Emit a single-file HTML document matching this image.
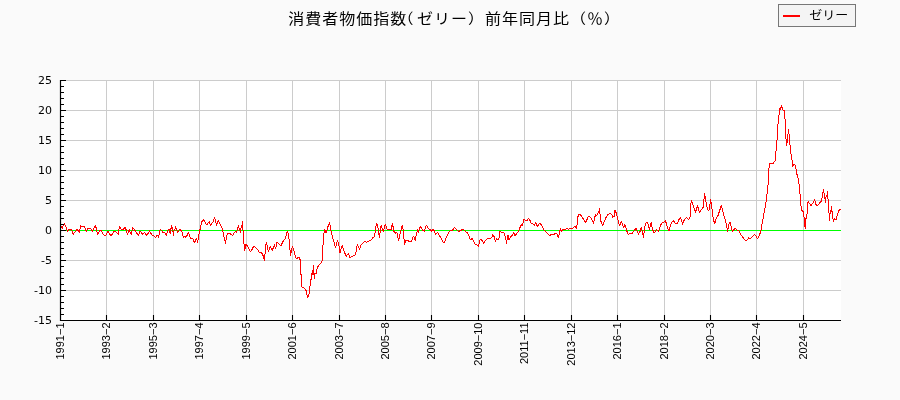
<!DOCTYPE html>
<html><head><meta charset="utf-8"><style>
html,body{margin:0;padding:0;background:#fafafa;}
svg{display:block;will-change:transform;}
.tk{font-family:"DejaVu Sans","Liberation Sans",sans-serif;font-size:11px;fill:#000;}
.tx{font-family:"Liberation Sans",sans-serif;font-size:11px;fill:#000;}
.tt{font-family:"Liberation Sans","Noto Sans CJK JP",sans-serif;font-size:16px;fill:#000;}
.lg{font-family:"Liberation Sans","Noto Sans CJK JP",sans-serif;font-size:13px;fill:#000;}
</style></head><body>
<svg width="900" height="400" viewBox="0 0 900 400">
<rect x="0" y="0" width="900" height="400" fill="#fafafa"/>
<rect x="60" y="80" width="781" height="241" fill="#ffffff"/>
<path d="M106.5 80V320M153.5 80V320M199.5 80V320M246.5 80V320M292.5 80V320M339.5 80V320M385.5 80V320M431.5 80V320M478.5 80V320M524.5 80V320M571.5 80V320M617.5 80V320M664.5 80V320M710.5 80V320M756.5 80V320M803.5 80V320M61 80.5H841M61 110.5H841M61 140.5H841M61 170.5H841M61 200.5H841M61 230.5H841M61 260.5H841M61 290.5H841" stroke="#cccccc" stroke-width="1" fill="none"/>
<path d="M61 230.5H841" stroke="#00ff00" stroke-width="1"/>
<polyline points="60.5,226 61.04,226 62.4,228.4 63.2,225.6 64.4,223.2 65.6,226 66.4,227.6 67.2,231.2 68,230.4 69.2,229.2 70.8,229.36 71.76,230 73.2,234.4 74.4,232.8 75.6,231.2 77.2,229.2 78.16,231.2 78.64,230.4 79.6,232.8 80.4,225.2 81.6,226.4 84.4,226.4 86.16,231.2 87.6,228.8 90.4,228.4 92.4,231.2 93.6,228.4 94.4,227.2 95.6,225.2 96.4,229.6 97.6,234.4 98.4,233.2 99.6,230.8 101.2,230.4 103.2,234.4 104.8,235.6 106,235.2 108,231.2 109.2,233.2 110.8,235.6 112.4,234.4 114,231.2 115.6,231.2 117.2,233.2 118.36,234.64 119.4,226.4 119.96,228.8 120.6,228 121.4,229.6 123.4,229.36 125,227.6 125.8,228.8 127.4,234.64 128.44,231.2 129.4,229.2 130.36,233.2 131.4,234.64 132.6,227.2 134.2,229.6 135.4,230.8 136.6,232.8 138.36,235.6 139.8,231.6 140.6,231.2 142.6,234.64 144.6,232.4 146.6,235.44 147.8,234 149.4,230.96 150.6,233.2 152.2,234.96 153.8,235.6 155.4,237.6 157,235.6 158.2,235.44 158.6,237.6 159.4,232 160.2,229.2 161.4,230.4 162.6,232.24 164.6,232.24 166.2,235.44 167.4,231.2 168.2,229.6 169.4,229.2 170.2,233.6 171.4,225.2 171.96,228.8 172.6,228 173.4,235.2 174.2,229.6 175,228.8 175.42,226.22 176.32,229.55 177.4,232.25 178.48,230.72 179.65,229.28 181,230.45 182.08,232.25 183.25,237.38 184.6,236.3 185.95,237.38 187.3,234.95 188.38,232.25 189.55,235.85 190.45,238.1 192.7,238.55 194.5,242.6 195.58,240.35 196.48,238.55 197.65,242.6 198.55,235.85 199.9,230 200.8,225.95 201.7,221.9 203.32,219.2 204.58,221.45 205.75,223.7 207.1,224.42 208.45,222.62 209.35,221.45 210.52,225.5 211.6,223.7 212.95,221.9 214.48,217.4 215.65,221.45 216.37,225.5 217.45,222.35 218.35,220.1 219.52,222.8 220.6,225.5 221.95,228.2 222.86,230.9 223.76,235.85 224.66,239.45 225.56,243.5 226.46,236.3 227.81,233.42 229.16,233.15 230.51,234.05 232.5,235.5 233.8,233.5 235.2,231.5 236.5,232.5 237.5,229 238.5,225.5 239.5,230 240.5,232.5 241.3,226 242,225 242.5,221.5 243,229.5 243.5,242 244.2,244.5 244.5,250.5 245.2,248 245.8,244 247,245.5 248.5,248 250.5,251.5 252,249.5 253.5,246.5 255,247 256.5,248.2 258,250 259.5,252.5 261,252.5 262.5,254 263.5,257 264.5,260.5 265.5,248 266.3,242.5 267.5,247 268.5,252 269.5,248 270.5,246.5 271.5,248.8 272.5,250.5 273.5,246.5 274.5,245 275.5,249 277,242.5 278,243 279.5,244.5 281,245.5 282.5,242.5 284,240 285.5,238.5 286.5,234 287.2,231 288.5,234.5 289.5,243 290,250 290.5,255.5 291.5,250 292.5,246.5 293.5,249 294.5,253 295.8,258 297,259.2 298.2,257 299.4,258 300.4,260.4 300.6,273 301.4,276 301.6,286.8 303,287.4 304.8,288.6 306,290.4 306.8,294.6 307.6,297.4 309,294.6 310.2,284.4 311.4,277.2 312.4,270 312.8,274.2 313.6,265.2 314.2,278.4 315,273 316,274.2 316.8,269.4 318,266.4 319.8,264 321,262.8 322.5,260.4 322.56,252.11 323.56,237.11 324.44,229.33 326.11,232.67 327.78,227.11 329.56,222.11 330.78,230.44 332.78,238.22 334.44,243.78 335.56,247.67 337.56,240.22 339.44,247.67 340,252.67 342.22,245.44 343.89,250.44 346.11,256.56 348.33,253.22 350,258.22 351.67,256.56 353.89,255.78 355.56,254.89 357.22,244.33 359.44,249.33 361.11,245.11 363.33,242.67 365,241.33 366.67,242.44 368.89,241 371.11,239.89 372.78,237.67 374.44,236.56 376.44,223.22 377.78,226 379.44,237.67 381.11,225.44 383.33,231.56 385.33,224.33 387.22,229.56 389.44,229.56 391.11,229.56 392.44,223.22 393.89,231.56 395.56,233.22 396.89,232.67 398.56,240.44 400.22,233.22 402.22,225.44 403.33,230.44 404.44,244.33 405.56,240.67 407.78,240.67 410,241.78 411.24,241.44 412.2,239.2 413.4,236.4 414.44,238 415.4,240.4 416.2,234.4 417,232 417.64,229.6 418.44,232.4 419.4,228.4 420.36,226.4 421.4,228 422.6,230 424.2,231.2 425.4,227.6 426.44,225.44 427.4,226.8 428.36,228.4 429.4,229.44 430.44,229.6 431.4,231.2 432.6,230 433.64,229.6 434.44,231.6 435.4,234.4 436.6,233.2 437.4,232.4 438.6,234.24 440.2,236.64 441.8,239.6 443.24,242.4 444.2,243.04 445,241.2 445.96,238 447,236 448.2,233.76 449.4,231.6 450.6,230.4 452.2,230.4 453.4,229.2 454.44,227.2 455.4,228.4 456.6,229.6 457.8,230.8 458.76,231.36 459.8,230.8 461,230.24 462.2,229.6 463.4,229.76 464.6,230.56 465.5,231.5 467,232.5 468.2,234.5 469.5,237.5 470.5,239.8 471.5,239 472.5,238.5 473.5,241 475,244 476.5,244.8 478,245.5 478.5,246.5 479.5,241.5 480.5,239.2 482,240.5 483.5,243 485,241.2 486.5,239.5 488,238.2 490,238.2 491.5,238 492.8,234.5 493.8,235.8 494.5,238 495.5,241.2 496.5,239 498,239.5 499,238 500,231.5 501,231.8 502,232.5 503.2,232.2 504.5,233.8 505.8,239 506.5,243.5 507.2,239 508,235.5 509,240 510,238 511.2,236.2 512.5,235 513.8,232.5 515,235.5 516,234.5 517.5,232.5 518.5,231.2 519.8,228.5 520,227.5 521.2,224.5 522.2,226 523.2,222 524.2,219 525.5,220.5 526.8,221 528.5,218.2 529.8,220 531.2,223.2 532.8,223.8 534.5,225.2 535.5,222.5 536.5,224.5 537.5,226.5 538.5,224.8 539.5,223.2 541,224.5 542.5,226.5 544,230 545,231 546.5,232.5 548,234.2 549.5,235.8 551,234.5 552.5,234.5 554,234.5 555.5,233.2 556.8,233.5 557.8,236 558.5,237.8 559.5,232.2 560.5,228.2 561.2,231.5 562.5,230 564,229.2 565.5,229.5 567,228.2 568.2,229.5 569.5,228.8 571,228.5 572.5,228.5 573.5,227.5 574.8,226 575.5,227 576.5,228.2 577,225.5 577.5,218.5 578.5,214.5 580,214.5 581.5,216 583,218.5 584.5,221 585.8,222.5 587,219.5 588,217 589.5,216.5 591,218 592.5,220.5 593.5,223.5 594.5,218 595.5,215 596.5,215.5 597.5,214.5 598.2,212 599,211.5 599.5,208.2 600,213.5 601,221.5 602.5,225.5 603.5,223.5 605,220 606.2,217 607.5,215 609,213.8 610.5,213.2 611.8,214.8 612.8,217.2 614,216.8 614.8,212 615,210 616,212.5 617.5,218 619,224 619.8,226 621.2,221.5 622.5,224 623.5,228 624.5,225 625.5,226 626.5,229.5 627.5,233.5 628.5,234.2 630,233.5 632,233.5 633.5,231.5 635,229.5 636.2,228.5 637.2,231.5 638.5,234.2 639.5,233.5 640.5,229.5 641.5,227.5 642.2,231.5 643,234.5 643.5,237.5 644.5,229 645.5,223.5 646.8,222.2 647.8,223.5 649.5,229.5 650.8,223 651.5,222.5 652.2,228 653.5,232 655,232 656.5,229.5 657.5,230.5 658.5,231.5 659.5,228 661,224.5 662.5,222.5 664,222.2 665,221.5 665.5,220.5 666.5,224.5 667.8,228.5 669,230.5 670,227 671,224 672.2,222 673.5,220.5 674.5,222.5 676,223.5 677.5,223.5 679,219.5 680.5,217.5 681.5,220 682.5,224.5 683.5,221 684.8,220 684.9,219.51 686.3,217.41 687.28,218.11 688.4,219.93 690.08,216.71 691.2,199.9 692.32,202.71 694.01,207.61 695.41,212.51 697.51,205.51 698.91,211.11 699.61,212.51 701.01,210.13 703.11,207.33 703.81,202.01 704.51,193.32 705.63,199.2 706.61,206.21 708.01,210.41 709.41,209.71 710.53,199.2 711.51,204.81 712.49,213.21 713.61,220.21 714.73,223.71 715.71,219.51 716.69,217.41 718.1,215.31 719.5,211.11 721.32,205.51 723.14,212.51 724.82,218.53 726.5,224.69 727.62,231.42 729.02,223.71 730.14,222.31 731.54,227.92 732.52,231.42 733.92,229.32 735.32,228.62 737.14,230.02 738.82,230.72 739.94,233.1 740.8,234.55 742.97,237.45 744.86,239.91 746.88,240.35 748.77,237.88 750.65,238.46 752.39,236.43 754.57,234.55 756.01,236 757.46,238.46 758.91,236.72 760.36,232.38 761.38,228.03 762.54,221.51 763.99,213.54 765.43,206.29 766.16,201.22 766.88,195.42 767.61,187.45 768.04,185.28 768.8,170 769.5,164 770.2,163.5 773.5,163.2 774.5,161.5 775.2,160.5 775.8,154 776.2,148 776.5,142 777.2,139 777.5,130 778.5,119 779.5,111 780.2,107.5 780.8,110 781.5,105.2 782.2,107.5 782.8,110 783.5,110.5 784.5,110.5 785,119 785.5,127 786.3,145.5 786.8,140 787.2,142.5 787.8,136 788.5,130 789.2,135 789.5,144.5 790.2,145 790.8,154 791.5,155 792.2,162 792.5,166.5 793.2,165 794,164.5 794.7,164 795.3,166 795.8,167 796.2,171.5 796.8,174 797.5,176 798.5,180 799,184 799.5,187 800,194 800.5,202 801.5,210.5 802.8,210.8 803.8,214.5 804.5,223 805.2,228.5 805.8,223 806.2,214.5 807,214 807.5,205 808.2,201.5 809,203 809.8,203.5 810.5,205.5 811.5,205 812.5,204.5 813.5,202 814.5,199.5 815.5,203 816.2,205 817.5,205.5 818.5,204.8 819.5,202.5 820.5,202 821.5,201.5 822.2,197 822.8,193.5 823.5,189.2 824.2,194 824.8,198 825.5,202.5 826.2,195 826.8,197 827.5,191.2 828,199 828.5,205 829,213 829.5,220.8 830,214.5 830.5,211 831,212 831.5,207 832,211 832.8,218 833.5,221.5 834.5,219 836,219.5 837,216 838,213 839,210.5 840,209.5 841,209.2" fill="none" stroke="#ff0000" stroke-width="1" stroke-linejoin="round" shape-rendering="crispEdges"/>
<path d="M106.5 320v-5M153.5 320v-5M199.5 320v-5M246.5 320v-5M292.5 320v-5M339.5 320v-5M385.5 320v-5M431.5 320v-5M478.5 320v-5M524.5 320v-5M571.5 320v-5M617.5 320v-5M664.5 320v-5M710.5 320v-5M756.5 320v-5M803.5 320v-5M60 80.5h6M60 86.5h4M60 92.5h4M60 98.5h4M60 104.5h4M60 110.5h6M60 116.5h4M60 122.5h4M60 128.5h4M60 134.5h4M60 140.5h6M60 146.5h4M60 152.5h4M60 158.5h4M60 164.5h4M60 170.5h6M60 176.5h4M60 182.5h4M60 188.5h4M60 194.5h4M60 200.5h6M60 206.5h4M60 212.5h4M60 218.5h4M60 224.5h4M60 230.5h6M60 236.5h4M60 242.5h4M60 248.5h4M60 254.5h4M60 260.5h6M60 266.5h4M60 272.5h4M60 278.5h4M60 284.5h4M60 290.5h6M60 296.5h4M60 302.5h4M60 308.5h4M60 314.5h4M60 320.5h6" stroke="#000" stroke-width="1.1" fill="none"/>
<path d="M60.5 80V320.5H841" stroke="#000" stroke-width="1.2" fill="none"/>
<text x="52" y="84.1" text-anchor="end" class="tk">25</text>
<text x="52" y="114.1" text-anchor="end" class="tk">20</text>
<text x="52" y="144.1" text-anchor="end" class="tk">15</text>
<text x="52" y="174.1" text-anchor="end" class="tk">10</text>
<text x="52" y="204.1" text-anchor="end" class="tk">5</text>
<text x="52" y="234.1" text-anchor="end" class="tk">0</text>
<text x="52" y="264.1" text-anchor="end" class="tk">-5</text>
<text x="52" y="294.1" text-anchor="end" class="tk">-10</text>
<text x="52" y="324.1" text-anchor="end" class="tk">-15</text>
<text transform="translate(63.50,322.5) rotate(-90)" text-anchor="end" class="tx">1991&#8722;1</text>
<text transform="translate(109.50,322.5) rotate(-90)" text-anchor="end" class="tx">1993&#8722;2</text>
<text transform="translate(156.50,322.5) rotate(-90)" text-anchor="end" class="tx">1995&#8722;3</text>
<text transform="translate(202.50,322.5) rotate(-90)" text-anchor="end" class="tx">1997&#8722;4</text>
<text transform="translate(249.50,322.5) rotate(-90)" text-anchor="end" class="tx">1999&#8722;5</text>
<text transform="translate(295.50,322.5) rotate(-90)" text-anchor="end" class="tx">2001&#8722;6</text>
<text transform="translate(342.50,322.5) rotate(-90)" text-anchor="end" class="tx">2003&#8722;7</text>
<text transform="translate(388.50,322.5) rotate(-90)" text-anchor="end" class="tx">2005&#8722;8</text>
<text transform="translate(434.50,322.5) rotate(-90)" text-anchor="end" class="tx">2007&#8722;9</text>
<text transform="translate(481.50,322.5) rotate(-90)" text-anchor="end" class="tx">2009&#8722;10</text>
<text transform="translate(527.50,322.5) rotate(-90)" text-anchor="end" class="tx">2011&#8722;11</text>
<text transform="translate(574.50,322.5) rotate(-90)" text-anchor="end" class="tx">2013&#8722;12</text>
<text transform="translate(620.50,322.5) rotate(-90)" text-anchor="end" class="tx">2016&#8722;1</text>
<text transform="translate(667.50,322.5) rotate(-90)" text-anchor="end" class="tx">2018&#8722;2</text>
<text transform="translate(713.50,322.5) rotate(-90)" text-anchor="end" class="tx">2020&#8722;3</text>
<text transform="translate(759.50,322.5) rotate(-90)" text-anchor="end" class="tx">2022&#8722;4</text>
<text transform="translate(806.50,322.5) rotate(-90)" text-anchor="end" class="tx">2024&#8722;5</text>
<text transform="translate(0,24.0) scale(1,0.896)" x="288.3 305.3 322.3 339.3 356.3 373.3 390.3 397.6 417 434 451 468 485 502 519 536 553 570 587 604" y="0" class="tt">消費者物価指数（ゼリー）前年同月比（％）</text>
<rect x="778.5" y="4.5" width="77" height="22" fill="#f4f4f4" stroke="#777777" stroke-width="1"/>
<path d="M783 16H800" stroke="#ff0000" stroke-width="2"/>
<text transform="translate(0,20.05) scale(1,0.92)" x="809.2" y="0" class="lg">ゼリー</text>
</svg>
</body></html>
